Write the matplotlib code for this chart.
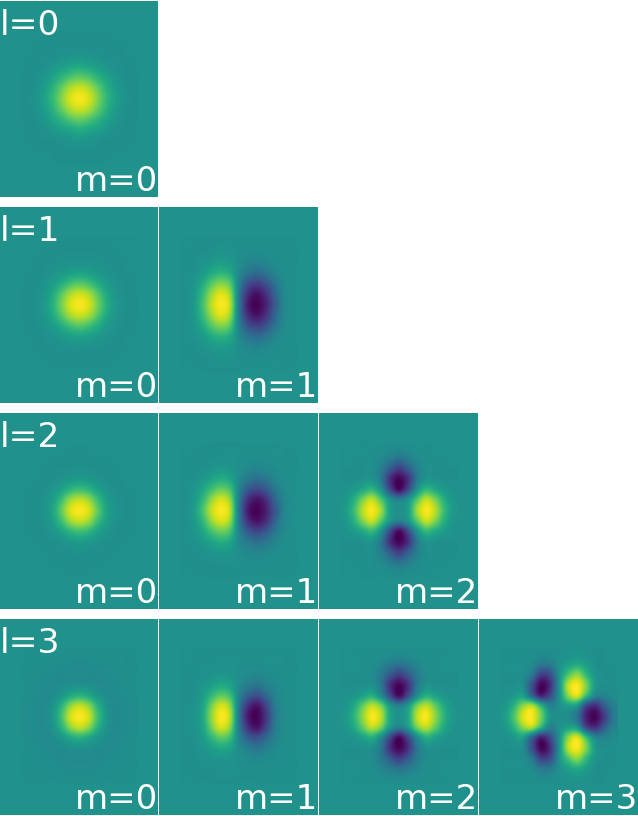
import matplotlib
matplotlib.use('Agg')
import matplotlib.pyplot as plt
import numpy as np

# percent of full scale on a coarse grid around each blob
# only the top half + middle row is kept, the panels are mirrored top to bottom
l0_m0 = [[0,0,0,0,0,0,0,0,0,0,0,0,0],
         [0,0,0,0,0,0,0,0,0,0,0,0,0],
         [0,0,0,0,2,4,6,4,2,0,0,0,0],
         [0,0,1,6,12,18,22,18,12,6,1,0,0],
         [0,0,5,16,30,45,52,45,30,16,5,0,0],
         [0,1,10,27,52,75,84,75,52,27,10,1,0],
         [0,3,13,33,62,88,97,88,62,33,13,3,0]]

l1_m0 = [[0,0,0,0,0,0,0,0,0,0,0,0,0],
         [0,0,0,0,0,0,0,0,0,0,0,0,0],
         [0,0,0,0,1,2,3,2,1,0,0,0,0],
         [0,0,0,3,7,13,16,13,7,3,0,0,0],
         [0,0,2,10,24,40,48,40,24,10,2,0,0],
         [0,0,5,20,48,74,84,74,48,20,5,0,0],
         [0,1,8,26,58,88,98,88,58,26,8,1,0]]

l1_m1 = [[0,0,0,0,0,0,0,0,0,0,0,0,0],
         [0,0,0,1,3,2,0,-2,-3,-1,0,0,0],
         [0,0,3,7,11,8,-2,-8,-11,-7,-3,0,0],
         [0,2,9,22,30,22,-6,-23,-30,-22,-9,-2,0],
         [0,4,22,48,62,48,-12,-50,-62,-48,-22,-4,0],
         [0,6,34,70,90,70,-18,-74,-90,-70,-34,-6,0],
         [0,8,40,80,98,80,-20,-85,-98,-80,-40,-8,0]]

l2_m0 = [[0,0,0,0,0,0,0,0,0,0,0,0,0],
         [0,0,0,0,0,0,0,0,0,0,0,0,0],
         [0,0,0,0,0,0,1,0,0,0,0,0,0],
         [0,0,0,0,3,7,10,7,3,0,0,0,0],
         [0,0,0,5,15,31,38,31,15,5,0,0,0],
         [0,0,2,12,38,70,82,70,38,12,2,0,0],
         [0,0,3,17,52,88,98,88,52,17,3,0,0]]

l2_m1 = [[0,0,0,0,0,0,0,0,0,0,0,0,0],
         [0,0,0,0,1,1,0,-1,-2,-1,0,0,0],
         [0,0,1,4,7,5,-1,-6,-9,-6,-3,0,0],
         [0,1,7,16,24,18,-5,-19,-26,-20,-8,-2,0],
         [0,4,18,40,54,42,-11,-44,-56,-44,-20,-5,0],
         [0,7,32,68,88,68,-17,-72,-90,-72,-34,-8,0],
         [0,10,42,82,98,80,-20,-85,-98,-82,-44,-10,-1]]

l2_m2 = [[0,0,0,0,0,-2,-4,-2,0,0,0,0,0],
         [0,0,0,0,-4,-14,-22,-14,-4,0,0,0,0],
         [0,0,0,0,-14,-40,-62,-40,-14,0,0,0,0],
         [0,0,1,3,-18,-72,-97,-72,-18,3,1,0,0],
         [2,8,20,32,2,-55,-95,-55,2,32,20,8,2],
         [5,25,60,82,48,4,-12,4,48,82,60,25,5],
         [8,35,78,98,72,12,0,12,72,98,78,35,8]]

l3_m0 = [[0,0,0,0,0,-1,-1,-1,0,0,0,0,0],
         [0,0,0,-1,-2,-3,-3,-3,-2,-1,0,0,0],
         [0,0,-2,-3,-4,-4,-4,-4,-4,-3,-2,0,0],
         [0,-1,-3,-4,-3,0,1,0,-3,-4,-3,-1,0],
         [0,-2,-4,-2,5,20,28,20,5,-2,-4,-2,0],
         [-1,-3,-4,3,28,66,82,66,28,3,-4,-3,-1],
         [-1,-3,-4,6,40,86,98,86,40,6,-4,-3,-1]]

l3_m1 = [[0,0,0,0,0,0,0,0,0,0,0,0,0],
         [0,0,0,0,1,1,0,-1,-1,0,0,0,0],
         [0,0,1,3,5,4,-1,-4,-6,-4,-2,0,0],
         [0,0,4,12,20,15,-4,-15,-22,-13,-5,-1,0],
         [0,1,10,32,50,38,-10,-40,-50,-32,-11,-2,0],
         [0,2,16,58,88,66,-18,-72,-90,-58,-17,-3,0],
         [0,3,20,68,98,78,-22,-86,-98,-68,-20,-3,0]]

l3_m2 = [[0,0,0,0,-1,-2,-4,-2,-1,0,0,0,0],
         [0,0,0,-1,-7,-16,-22,-16,-7,-1,0,0,0],
         [0,0,0,-3,-18,-42,-62,-42,-18,-3,0,0,0],
         [0,0,0,0,-20,-72,-97,-72,-20,0,0,0,0],
         [1,4,14,25,-4,-55,-95,-55,-4,25,14,4,1],
         [4,20,52,80,60,8,-12,8,60,80,52,20,4],
         [6,28,66,98,80,18,0,18,80,98,66,28,6]]

l3_m3 = [[0,0,0,0,-3,-3,0,2,4,2,0,0,0],
         [0,0,0,-4,-18,-16,0,12,20,10,0,0,0],
         [0,0,-1,-18,-60,-52,0,42,65,32,4,0,0],
         [0,0,-3,-48,-97,-75,0,78,98,60,8,0,0],
         [1,6,12,-35,-82,-55,0,65,90,38,-8,-10,-2],
         [6,28,65,78,32,-12,0,12,5,-58,-75,-42,-14],
         [10,42,88,98,58,6,0,-3,-25,-82,-98,-65,-20]]

rows = [[l0_m0],
        [l1_m0, l1_m1],
        [l2_m0, l2_m1, l2_m2],
        [l3_m0, l3_m1, l3_m2, l3_m3]]

W, H = 638, 816
col_left = [0, 159, 319, 479]
col_width = [158, 159, 159, 159]
row_top = [1, 207, 413, 619]
ph = 196

fig = plt.figure(figsize=(W/100, H/100), dpi=100)
bg = plt.cm.viridis(0.5)

for l, row in enumerate(rows):
    for m, half in enumerate(row):
        ax = fig.add_axes([col_left[m]/W, 1 - (row_top[l] + ph)/H, col_width[m]/W, ph/H])
        half = np.array(half) / 100
        grid = np.vstack((half, half[-2::-1]))
        ax.set_facecolor(bg)
        # catrom goes through the grid values, plain bicubic smooths the peaks away
        ax.imshow(grid, cmap='viridis', vmin=-1, vmax=1, interpolation='catrom',
                  extent=(-58.5, 58.5, -68.25, 68.25), aspect='auto')
        ax.set_xlim(-79, 79)
        ax.set_ylim(-98, 98)
        ax.set_xticks([])
        ax.set_yticks([])
        for s in ax.spines.values():
            s.set_visible(False)
        ax.text(-4, -92, f'm={m}', color='white', fontsize=24.5, va='baseline', ha='left', clip_on=True)
        if m == 0:
            ax.text(-79, 64, f'l={l}', color='white', fontsize=24.8, va='baseline', ha='left')

fig.savefig('out.png', dpi=100)
